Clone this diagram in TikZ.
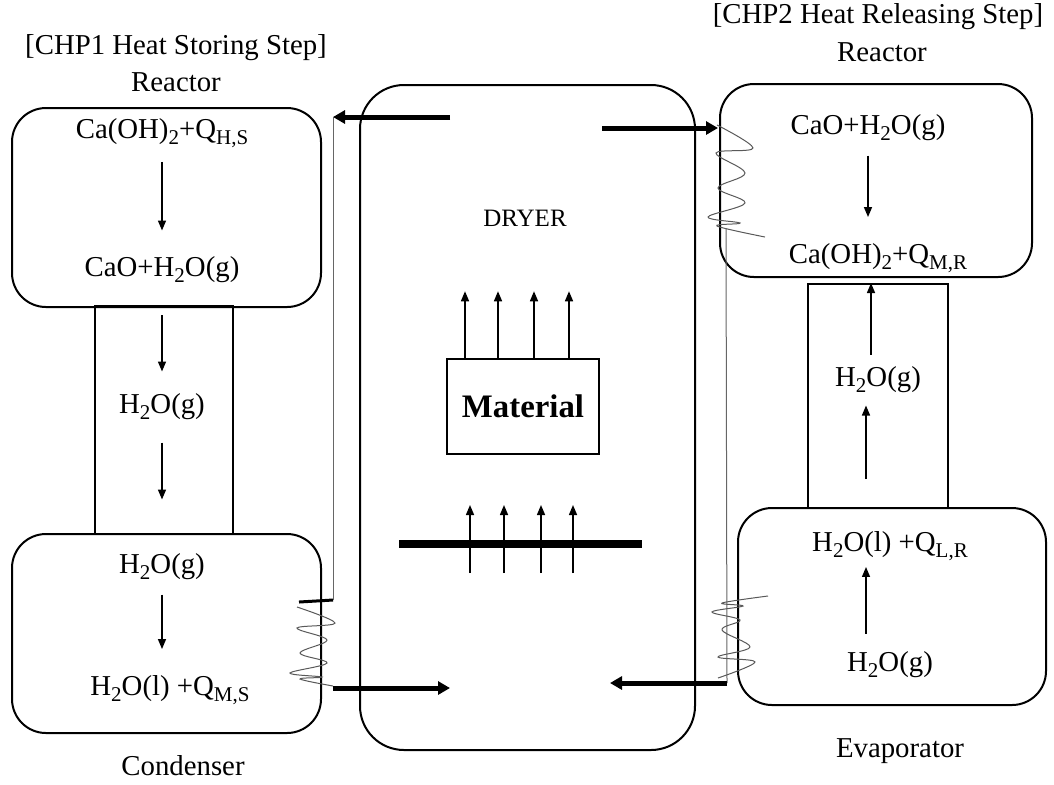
\documentclass[tikz,border=0pt]{standalone}
\usepackage{fontspec}
\setmainfont{Liberation Serif}
\usetikzlibrary{arrows.meta, positioning}
\newcommand{\sub}[1]{\raisebox{-0.45ex}{\fontsize{10.5}{12}\selectfont #1}}

\begin{document}
\begin{tikzpicture}[x=0.5pt, y=-0.5pt, >={Triangle[length=5pt, width=4pt]},
  every node/.style={font=\fontsize{14.4}{17}\selectfont, inner sep=1pt},
  vessel/.style={draw, line width=1pt, rounded corners=17pt},
  pipe/.style={draw, line width=1pt},
  flow/.style={->, line width=0.75pt},
  duct/.style={-{Triangle[length=6pt, width=6.5pt]}, line width=2.5pt},
  wire/.style={gray!80!black, line width=0.5pt},
  coilline/.style={gray!70!black, line width=0.5pt},
  plate/.style={line width=4pt}]

  \useasboundingbox (0,0) rectangle (1054,784);

  % Vessels
  \node[pipe, minimum width=69pt, minimum height=114pt] (lpipe) at (164,420) {};
  \node[pipe, minimum width=70pt, minimum height=112pt] (rpipe) at (878,396) {};
  \node[vessel, minimum width=154.5pt, minimum height=99.5pt] (lreactor) at (166.5,207.5) {};
  \node[vessel, minimum width=154.5pt, minimum height=99.5pt] (condenser) at (166.5,633.5) {};
  \node[vessel, minimum width=167.5pt, minimum height=332.5pt, rounded corners=22pt] (dryer) at (527.5,417.5) {};
  \node[vessel, minimum width=156pt, minimum height=96.5pt] (rreactor) at (876,180.5) {};
  \node[vessel, minimum width=154pt, minimum height=98.5pt] (evaporator) at (892,606.5) {};
  \node[draw, line width=0.75pt, minimum width=76pt, minimum height=47.5pt] (mat) at (523,406.5)
    {\fontsize{16.4}{19}\selectfont\bfseries Material};

  % Titles
  \node (ltitle) at (176,48) {[CHP1 Heat Storing Step]};
  \node (lreac) at (176,82) {Reactor};
  \node (rtitle) at (878,17) {[CHP2 Heat Releasing Step]};
  \node (rreac) at (882,52) {Reactor};
  \node (cond) at (183,766) {Condenser};
  \node (evap) at (900,751) {Evaporator};
  \node[font=\fontsize{12.5}{14}\selectfont] (dlabel) at (525,218) {DRYER};

  % Species
  \node (lt1) at (162,133) {Ca(OH)\sub{2}+Q\sub{H,S}};
  \node (lt2) at (162,270) {CaO+H\sub{2}O(g)};
  \node (lg) at (162,407) {H\sub{2}O(g)};
  \node (cg) at (162,567) {H\sub{2}O(g)};
  \node (cl) at (170,690) {H\sub{2}O(l) +Q\sub{M,S}};
  \node (rt1) at (868,128) {CaO+H\sub{2}O(g)};
  \node (rt2) at (878,258) {Ca(OH)\sub{2}+Q\sub{M,R}};
  \node (rg) at (878,380) {H\sub{2}O(g)};
  \node (et1) at (890,546) {H\sub{2}O(l) +Q\sub{L,R}};
  \node (et2) at (890,665) {H\sub{2}O(g)};

  % Pipe ends
  \coordinate (dtl) at (450,117);
  \coordinate (gl1) at (333,117);
  \coordinate (gl2) at (333,600);
  \coordinate (gl3) at (299,602);
  \coordinate (gl4) at (333,688);
  \coordinate (dbl) at (450,688);
  \coordinate (dtr) at (602,128);
  \coordinate (gr1) at (718,128);
  \coordinate (gr2) at (726,228);
  \coordinate (gr3) at (727,683);
  \coordinate (dbr) at (610,683);
  \coordinate (pl) at (399,544);
  \coordinate (pr) at (642,544);

  % Reaction steps
  \draw[flow, shorten <=6pt, shorten >=12pt] (lt1) -- (lt2);
  \draw[flow, shorten <=5pt, shorten >=10pt] (lpipe.north -| lg) -- (lg);
  \draw[flow, shorten <=10pt, shorten >=26pt] (lg) -- (cg);
  \draw[flow, shorten <=6pt, shorten >=12pt] (cg) -- (cl.north -| cg);
  \draw[flow, shorten <=6pt, shorten >=12pt] (rt1) -- (rt2.north -| rt1);
  \draw[flow, shorten <=5pt] ([xshift=-3.5pt]rg.north) -- ([xshift=-3.5pt]rpipe.north -| rg);
  \draw[flow, shorten <=25pt, shorten >=5pt] ([xshift=-12pt]et1.north) -- ([xshift=-6pt]rg.south);
  \draw[flow, shorten <=8pt, shorten >=2pt] ([xshift=-12pt]et2.north) -- ([xshift=-12pt]et1.south);

  % Drying air
  \foreach \dx in {-58,-25,11,46}
    \draw[flow] ([xshift=\dx*0.5pt]mat.north) -- ++(0,-67);
  \draw[plate] (pl) -- (pr);
  \foreach \px in {470,504,541,573}
    \draw[flow] (\px,573) -- (\px,505);

  % Heat transfer loop
  \draw[duct] (dtl) -- (gl1);
  \draw[wire] (gl1) -- (gl2);
  \draw[line width=1.5pt] (gl2) -- (gl3);
  \draw[coilline] plot[smooth, tension=0.6] coordinates {(297,607) (335,623) (297,628) (327,640) (300,653) (327,663) (290,673) (322,677) (300,679) (333,686)};
  \draw[duct] (gl4) -- (dbl);
  \draw[duct] (dtr) -- (gr1);
  \draw[coilline] plot[smooth, tension=0.6] coordinates {(717,125) (753,148) (716,153) (745,173) (718,188) (745,203) (708,217) (740,223) (717,226) (765,237)};
  \draw[wire] (gr2) -- (gr3);
  \draw[coilline] plot[smooth, tension=0.6] coordinates {(768,596) (722,603) (743,606) (712,612) (740,620) (722,630) (750,647) (718,657) (755,662) (718,678)};
  \draw[duct] (gr3) -- (dbr);

\end{tikzpicture}
\end{document}
